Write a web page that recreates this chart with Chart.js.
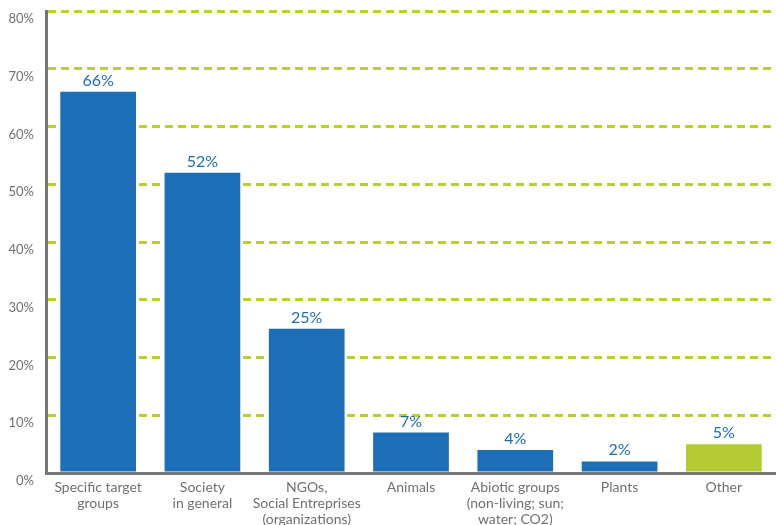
<!DOCTYPE html>
<html>
<head>
<meta charset="utf-8">
<script src="https://cdn.jsdelivr.net/npm/chart.js@4"></script>
<style>
  html, body { margin: 0; padding: 0; background: #fff; }
  #wrap { width: 776px; height: 525px; }
</style>
</head>
<body>
<div id="wrap"><canvas id="myChart"></canvas></div>
<script>
// beneficiary groups and share of answers (%)
const categories = [
  ['Specific target', 'groups'],
  ['Society', 'in general'],
  ['NGOs,', 'Social Entreprises', '(organizations)'],
  ['Animals'],
  ['Abiotic groups', '(non-living; sun;', 'water; CO2)'],
  ['Plants'],
  ['Other']
];
const values = [66, 52, 25, 7, 4, 2, 5];
const barColors = ['#1c6fb6', '#1c6fb6', '#1c6fb6', '#1c6fb6', '#1c6fb6', '#1c6fb6', '#b5cb33'];
const yTicks = [0, 10, 20, 30, 40, 50, 60, 70, 80];

// value labels above each bar
const valueLabels = {
  id: 'valueLabels',
  afterDatasetsDraw(chart) {
    const ctx = chart.ctx;
    const meta = chart.getDatasetMeta(0);
    ctx.save();
    ctx.fillStyle = '#1f6bb0';
    ctx.font = '16px Lato';
    ctx.textAlign = 'center';
    ctx.textBaseline = 'alphabetic';
    meta.data.forEach((bar, i) => {
      ctx.fillText(values[i] + '%', bar.x, bar.y - 6);
    });
    ctx.restore();
  }
};

const myChart = document.getElementById('myChart');

let barChart = new Chart(myChart, {
  type: 'bar',
  data: {
    labels: categories,
    datasets: [{
      data: values,
      backgroundColor: barColors,
      borderWidth: 0,
      categoryPercentage: 1,
      barPercentage: 0.726
    }]
  },
  options: {
    responsive: true,
    maintainAspectRatio: false,
    animation: false,
    layout: { padding: { top: 11, right: 0, left: 0, bottom: 0 } },
    plugins: {
      legend: { display: false },
      tooltip: { enabled: false }
    },
    scales: {
      x: {
        afterFit: (axis) => { axis.height = 52; },
        grid: { display: false, drawTicks: false },
        border: { color: '#757575', width: 3 },
        ticks: {
          color: '#707070',
          font: { family: 'Lato', size: 14, lineHeight: 1.15 },
          padding: 6,
          maxRotation: 0,
          autoSkip: false
        }
      },
      y: {
        min: 0,
        max: 80,
        afterBuildTicks: (axis) => { axis.ticks = yTicks.map(v => ({ value: v })); },
        afterFit: (axis) => {
          axis.width = 46;
          axis.paddingTop = 0;
          axis.paddingBottom = 0;
        },
        grid: {
          color: '#b8cf2f',
          lineWidth: 3,
          drawTicks: false
        },
        border: { color: '#757575', width: 3, dash: [8, 5] },
        ticks: {
          color: '#707070',
          font: { family: 'Lato', size: 13 },
          padding: 12,
          labelOffset: 8,
          callback: (v) => v + '%'
        }
      }
    }
  },
  plugins: [valueLabels]
});
</script>
</body>
</html>
